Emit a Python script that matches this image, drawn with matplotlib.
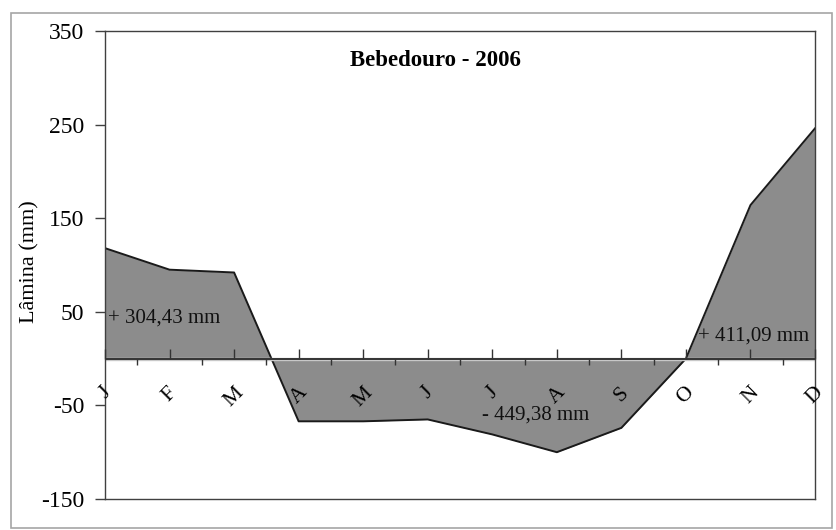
import matplotlib
matplotlib.use('Agg')
import matplotlib.pyplot as plt
import matplotlib.patches as mpatches
import numpy as np

plt.rcParams['font.family'] = ['Liberation Serif', 'DejaVu Serif']
plt.rcParams['axes.unicode_minus'] = False

# Monthly water balance (mm)
months = ['J', 'F', 'M', 'A', 'M', 'J', 'J', 'A', 'S', 'O', 'N', 'D']
lamina = [118, 95, 92, -67, -67, -65, -81, -100, -74, 0, 164, 246]

notes = ['+ 304,43 mm', '- 449,38 mm', '+ 411,09 mm']
note_x = [0.05, 5.84, 9.18]
note_y = [43, -60, 24]

ymin, ymax = -150, 350
x = np.arange(len(months))

fig = plt.figure(figsize=(8.37, 5.30), dpi=100)
ax = fig.add_axes([105 / 837, 1 - 499 / 530, 710 / 837, 468 / 530])

# outer frame of the chart area
fig.patches.append(mpatches.Rectangle((11 / 837, 2 / 530), 821 / 837, 515 / 530,
                                      transform=fig.transFigure, fill=False,
                                      edgecolor='#a6a6a6', linewidth=1.2))

ax.fill_between(x, lamina, 0, color='#8c8c8c', linewidth=0, zorder=1)
ax.plot(x, lamina, color='#1a1a1a', linewidth=1.4, zorder=2)
ax.axhline(0, color='#c8c8c8', linewidth=2.4, zorder=2.5)
ax.axhline(0, color='#333333', linewidth=1.4, zorder=3)

ax.set_xlim(0, len(months) - 1)
ax.set_ylim(ymin, ymax)
ax.set_yticks(np.arange(ymin, ymax + 1, 100))
ax.tick_params(axis='y', direction='out', length=7, width=1, color='#404040',
               labelsize=17, pad=8)
ax.tick_params(axis='x', bottom=False, labelbottom=False)
for s in ax.spines.values():
    s.set_color('#404040')
    s.set_linewidth(1.0)
    s.set_zorder(4)

# category axis crossing at zero
sec = ax.secondary_xaxis((0 - ymin) / (ymax - ymin))
sec.set_zorder(5)
sec.set_xticks(x)
sec.set_xticklabels(months, rotation=45, ha='center', fontsize=15.5)
sec.set_xticks(x[:-1] + 0.5, minor=True)
sec.tick_params(axis='x', which='major', direction='in', length=7, width=1,
                color='#333333', pad=18)
sec.tick_params(axis='x', which='minor', direction='out', length=4, width=1,
                color='#333333')
sec.spines['bottom'].set_visible(False)

for t, nx, ny in zip(notes, note_x, note_y):
    ax.text(nx, ny, t, fontsize=15, ha='left', va='center', color='#111111',
            zorder=6)

ax.text(5.12, 319, 'Bebedouro - 2006', fontsize=16.5, fontweight='bold',
        ha='center', va='center')

fig.text(30 / 837, 1 - 262 / 530, 'Lâmina (mm)', rotation=90, fontsize=16,
         ha='center', va='center')

fig.savefig('out.png', dpi=100, facecolor='white')
plt.close(fig)
